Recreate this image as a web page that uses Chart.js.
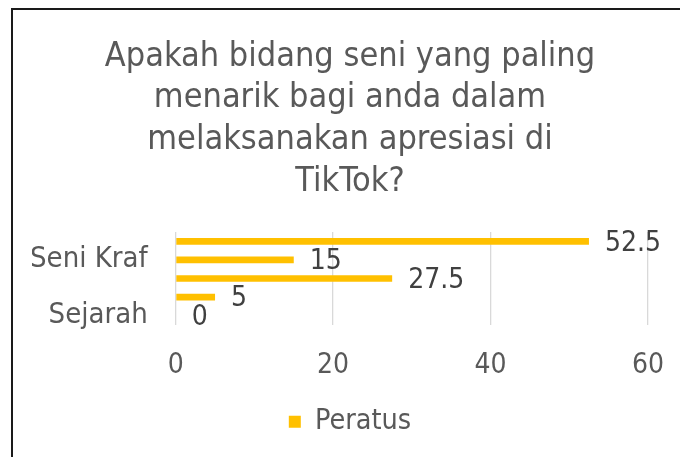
<!DOCTYPE html>
<html>
<head>
<meta charset="utf-8">
<script src="https://cdn.jsdelivr.net/npm/chart.js@4"></script>
<style>
  html, body { margin: 0; padding: 0; background: #fff; }
  #wrap { position: relative; width: 680px; height: 457px; overflow: hidden; }
  #frame { position: absolute; left: 11px; top: 8px; width: 700px; height: 500px;
           border-left: 2px solid #1a1a1a; border-top: 2px solid #1a1a1a; }
  canvas { position: absolute; left: 0; top: 0; }
</style>
</head>
<body>
<div id="wrap">
  <div id="frame"></div>
  <canvas id="chart" width="680" height="457"></canvas>
</div>
<script>
  // categories top to bottom; only two names are readable on the picture
  let categories = ["", "Seni Kraf", "", "", "Sejarah"];
  let peratus = [52.5, 15, 27.5, 5, 0];
  let xTicks = [0, 20, 40, 60];
  let titleLines = ["Apakah bidang seni yang paling", "menarik bagi anda dalam", "melaksanakan apresiasi di", "TikTok?"];

  let fontFam = "'DejaVu Sans Condensed', 'Liberation Sans Narrow', sans-serif";
  let textColor = "#595959";

  // draws the value next to each bar end
  let barLabels = {
    id: "barLabels",
    afterDatasetsDraw(chart) {
      let ctx = chart.ctx;
      let meta = chart.getDatasetMeta(0);
      ctx.save();
      ctx.font = "28px " + fontFam;
      ctx.fillStyle = "#404040";
      ctx.textAlign = "left";
      ctx.textBaseline = "middle";
      meta.data.forEach((bar, i) => {
        ctx.fillText(String(peratus[i]), bar.x + 16, bar.y + 2);
      });
      ctx.restore();
    }
  };

  let ctxBar = document.getElementById("chart");
  var peratusChart = new Chart(ctxBar, {
    type: "bar",
    data: {
      labels: categories,
      datasets: [{
        label: "Peratus",
        data: peratus,
        backgroundColor: "#FFC000",
        borderWidth: 0,
        barPercentage: 0.36,
        categoryPercentage: 1
      }]
    },
    options: {
      indexAxis: "y",
      responsive: false,
      animation: false,
      layout: { padding: { left: 32, right: 12, top: 36, bottom: 11 } },
      scales: {
        x: {
          min: 0, max: 60,
          afterBuildTicks: (axis) => { axis.ticks = xTicks.map(v => ({ value: v })); },
          afterFit: (axis) => { axis.height -= 11; axis.paddingLeft = 0; axis.paddingRight = 32; },
          grid: { color: "#d9d9d9", lineWidth: 1.3, drawTicks: false },
          border: { display: false },
          ticks: { color: textColor, font: { family: fontFam, size: 28 }, padding: 24 }
        },
        y: {
          afterFit: (axis) => { axis.width -= 30; },
          grid: { display: false, drawTicks: false },
          border: { display: false },
          ticks: { color: textColor, font: { family: fontFam, size: 29 }, padding: 28, autoSkip: false }
        }
      },
      plugins: {
        title: {
          display: true,
          text: titleLines,
          color: textColor,
          font: { family: fontFam, size: 34, weight: "normal", lineHeight: 1.225 },
          padding: { top: 0, bottom: 29.5 }
        },
        legend: {
          position: "bottom",
          labels: {
            color: textColor,
            font: { family: fontFam, size: 28.5 },
            boxWidth: 12, boxHeight: 12, padding: 12
          }
        },
        tooltip: { enabled: false }
      }
    },
    plugins: [barLabels]
  });
</script>
</body>
</html>
